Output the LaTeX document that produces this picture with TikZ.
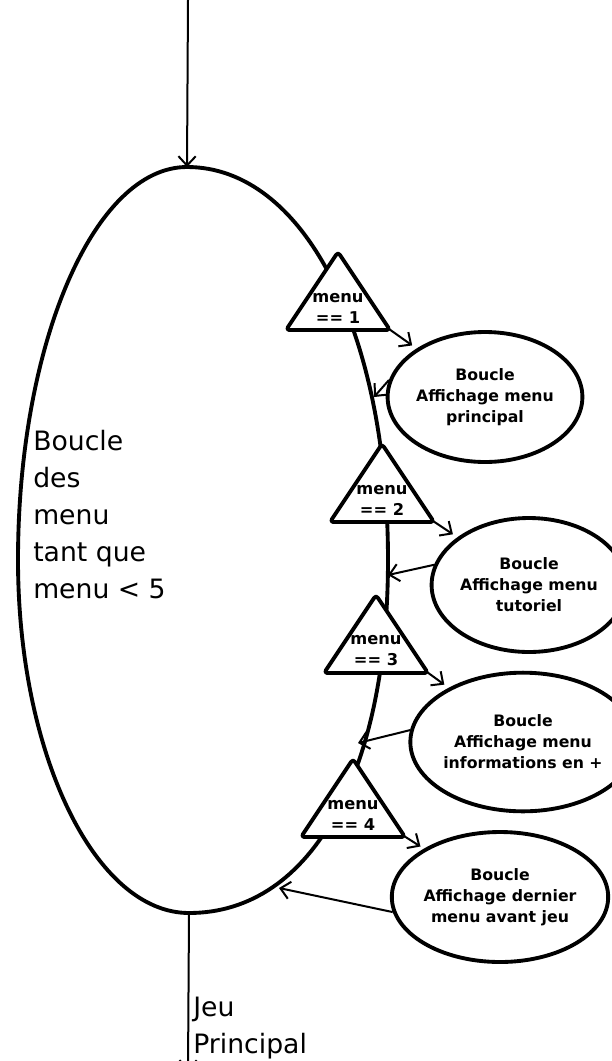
\documentclass[tikz,border=0pt]{standalone}
\usepackage{fontspec}
\setmainfont{DejaVu Sans}
\usetikzlibrary{arrows.meta,shapes.geometric}
\begin{document}
\begin{tikzpicture}[x=0.75pt,y=-0.75pt,
  mainline/.style={line width=2.9pt, line join=round},
  conn/.style={line width=1.5pt, -{Straight Barb[length=7pt,width=13pt]}},
  loopbox/.style={ellipse, draw, line width=2.9pt, fill=white, inner sep=0pt, align=center,
     font=\fontsize{11.8}{15.75}\selectfont\bfseries},
  tritext/.style={inner sep=0pt, align=center, font=\fontsize{12.2}{15.75}\selectfont\bfseries},
  bigtext/.style={inner sep=0pt, align=left, font=\fontsize{20}{27.75}\selectfont},
  tri/.pic={
    \draw[line width=2.9pt, fill=white, rounded corners=2.5pt, line join=round]
      (-52,0) -- (0,-78) -- (52,0) -- cycle;
    \node[tritext] (-t) at (0,-22) {#1};
    \coordinate (-br) at (51,-1);
  }]
\useasboundingbox (0,0) rectangle (611,1061);

% main loop outline
\coordinate (top) at (187,167);
\coordinate (right) at (388,560);
\coordinate (bot) at (189,913);
\coordinate (left) at (18,560);
\draw[mainline] (top) .. controls (304,167) and (388,332) .. (right)
  .. controls (388,772) and (312,913) .. (bot)
  .. controls (95,913) and (18,754) .. (left)
  .. controls (18,344) and (94,167) .. (top);

% points on the main loop
\coordinate (m1) at (374,397);
\coordinate (m2) at (388,575);
\coordinate (m3) at (358,743);
\coordinate (m4) at (279,888);
\coordinate (start) at (188,0);
\coordinate (end) at (188,1071);

% text of main loop
\node[bigtext, anchor=north west] (loop) at (33,430) {Boucle\\des\\menu\\tant que\\menu < 5};
\node[bigtext, anchor=north west] (jeu) at (193,997) {Jeu\\Principal};

% triangles
\pic (t1) at (338,330) {tri={menu\\== 1}};
\pic (t2) at (382,522) {tri={menu\\== 2}};
\pic (t3) at (376,673) {tri={menu\\== 3}};
\pic (t4) at (353,837) {tri={menu\\== 4}};

% right ellipses
\node[loopbox, minimum width=123pt, minimum height=97.5pt] (e1) at (485,397) {Boucle\\Affichage menu\\principal};
\node[loopbox, minimum width=123pt, minimum height=100.5pt] (e2) at (529,585) {Boucle\\Affichage menu\\tutoriel};
\node[loopbox, minimum width=127.5pt, minimum height=104pt] (e3) at (523,742) {Boucle\\Affichage menu\\informations en +};
\node[loopbox, minimum width=130.5pt, minimum height=97.5pt] (e4) at (500,897) {Boucle\\Affichage dernier\\menu avant jeu};

% connectors
\draw[conn] (start) -- (top);
\draw[conn] (bot) -- (end);
\draw[conn, shorten >=4pt] (t1-br) -- (e1);
\draw[conn, shorten >=4pt] (t2-br) -- (e2);
\draw[conn, shorten >=4pt] (t3-br) -- (e3);
\draw[conn, shorten >=3pt] (t4-br) -- (e4);
\draw[conn] (e1.170) -- (m1);
\draw[conn] (e2.168) -- (m2);
\draw[conn] (e3.174) -- (m3);
\draw[conn] (e4.188) -- (m4);
\end{tikzpicture}
\end{document}
